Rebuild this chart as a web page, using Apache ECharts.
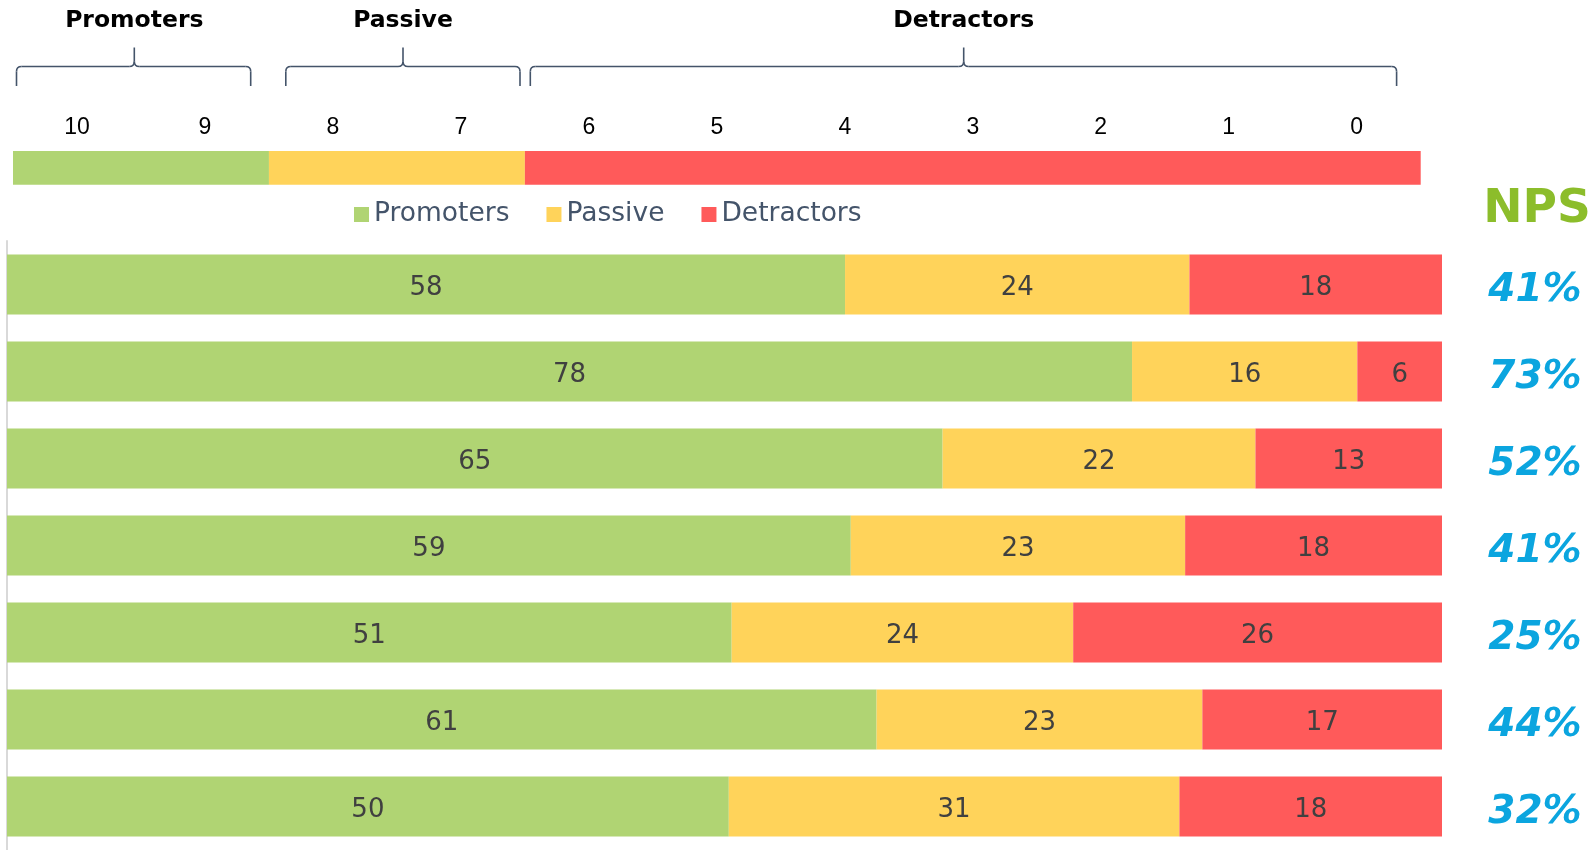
<!DOCTYPE html>
<html>
<head>
<meta charset="utf-8">
<script src="https://cdn.jsdelivr.net/npm/echarts@6/dist/echarts.min.js"></script>
<style>
html,body{margin:0;padding:0;background:#fff;}
#chart{width:1594px;height:850px;}
</style>
</head>
<body>
<div id="chart"></div>
<script>
// ---- data ----
const rows = ['1', '2', '3', '4', '5', '6', '7'];
const promoters  = [58.4, 78.4, 65.2, 58.8, 50.5, 60.6, 50.3];
const passive    = [24.0, 15.7, 21.8, 23.3, 23.8, 22.7, 31.4];
const detractors = [17.6,  5.9, 13.0, 17.9, 25.7, 16.7, 18.3];
const npsValues  = ['41%', '73%', '52%', '41%', '25%', '44%', '32%'];
const scoreLabels = ['10', '9', '8', '7', '6', '5', '4', '3', '2', '1', '0'];
const groupNames = ['Promoters', 'Passive', 'Detractors'];
const groupScoreCounts = [2, 2, 7];   // scores 10-9, 8-7, 6-0

// ---- styles ----
const colors = { Promoters: '#B0D473', Passive: '#FFD35A', Detractors: '#FF5A5A' };
const labelFont = '"DejaVu Sans", Verdana, sans-serif';
const braceStyle = { stroke: '#44546A', lineWidth: 1.6, fill: null };

function braceElements(x1, xm, x2) {
  const yb = 86, yh = 66.5, yt = 47.5, r = 5, t = 5;
  const L = (a, b, c, d) => ({ type: 'line', shape: { x1: a, y1: b, x2: c, y2: d }, style: braceStyle });
  const Q = (a, b, cx, cy, c, d) => ({ type: 'bezierCurve', shape: { x1: a, y1: b, cpx1: cx, cpy1: cy, x2: c, y2: d }, style: braceStyle });
  return [
    L(x1, yb, x1, yh + r),
    Q(x1, yh + r, x1, yh, x1 + r, yh),
    L(x1 + r, yh, xm - t, yh),
    Q(xm - t, yh, xm, yh, xm, yh - t),
    L(xm, yh - t, xm, yt),
    Q(xm, yh - t, xm, yh, xm + t, yh),
    L(xm + t, yh, x2 - r, yh),
    Q(x2 - r, yh, x2, yh, x2, yh + r),
    L(x2, yh + r, x2, yb)
  ];
}
const braces = [
  { name: 'Promoters', x1: 16.5, xm: 134.3, x2: 250.7 },
  { name: 'Passive', x1: 285.8, xm: 403, x2: 520 },
  { name: 'Detractors', x1: 530.3, xm: 963.7, x2: 1396.6 }
];
const graphic = [];
braces.forEach(b => {
  braceElements(b.x1, b.xm, b.x2).forEach(e => graphic.push(e));
  graphic.push({ type: 'text', x: b.xm, y: 21,
    style: { text: b.name, font: 'bold 23.5px "DejaVu Sans", Verdana, sans-serif', fill: '#000',
      align: 'center', verticalAlign: 'middle' } });
});
graphic.push({ type: 'text', x: 1537, y: 209.5,
  style: { text: 'NPS', font: 'bold 47px "DejaVu Sans", Verdana, sans-serif', fill: '#8CBD2B',
    align: 'center', verticalAlign: 'middle' } });

const segLabel = {
  show: true, position: 'inside', offset: [0, 4], color: '#404040', fontSize: 26, fontFamily: labelFont,
  formatter: p => Math.round(p.value)
};

const mainSeries = groupNames.map((g, i) => ({
  name: g, type: 'bar', stack: 'nps', xAxisIndex: 0, yAxisIndex: 0, barWidth: 60,
  itemStyle: { color: colors[g] }, label: segLabel, data: [promoters, passive, detractors][i]
}));
const scaleSeries = groupNames.map((g, i) => ({
  name: 'scale-' + g, type: 'bar', stack: 'scale', xAxisIndex: 2, yAxisIndex: 2, barCategoryGap: '0%',
  itemStyle: { color: colors[g] }, data: [groupScoreCounts[i]]
}));

const chart = echarts.init(document.getElementById('chart'), null, { renderer: 'canvas' });
chart.setOption({
  animation: false,
  backgroundColor: '#fff',
  graphic: graphic,
  legend: {
    data: groupNames, left: 354, top: 201, padding: 0, icon: 'rect', itemWidth: 15, itemHeight: 15, itemGap: 37,
    textStyle: { color: '#44546A', fontSize: 26.5, fontFamily: labelFont }
  },
  grid: [
    { left: 7, right: 152, top: 241, height: 612.5, containLabel: false },
    { left: 13, right: 173.3, top: 151, height: 33.7, containLabel: false }
  ],
  xAxis: [
    { type: 'value', gridIndex: 0, min: 0, max: 100, show: false },
    { type: 'category', gridIndex: 1, data: scoreLabels, position: 'top',
      axisLine: { show: false }, axisTick: { show: false }, splitLine: { show: false },
      axisLabel: { show: true, margin: 12, color: '#000', fontSize: 23, fontFamily: '"Liberation Sans", Arial, sans-serif' } },
    { type: 'value', gridIndex: 1, min: 0, max: scoreLabels.length, show: false }
  ],
  yAxis: [
    { type: 'category', gridIndex: 0, data: rows, inverse: true, offset: 1,
      axisLine: { show: true, lineStyle: { color: '#D9D9D9', width: 2 } },
      axisTick: { show: false }, axisLabel: { show: false } },
    { type: 'category', gridIndex: 0, data: npsValues, inverse: true, position: 'right',
      axisLine: { show: false }, axisTick: { show: false },
      axisLabel: { show: true, margin: 93, align: 'center',
        formatter: v => '{n|' + v + '}',
        rich: { n: { padding: [12, 0, 0, 0], color: '#0BA5DF', fontSize: 39, fontWeight: 'bold',
          fontStyle: 'italic', fontFamily: labelFont } } } },
    { type: 'category', gridIndex: 1, data: ['scale'], show: false }
  ],
  series: mainSeries.concat(scaleSeries)
});
</script>
</body>
</html>
